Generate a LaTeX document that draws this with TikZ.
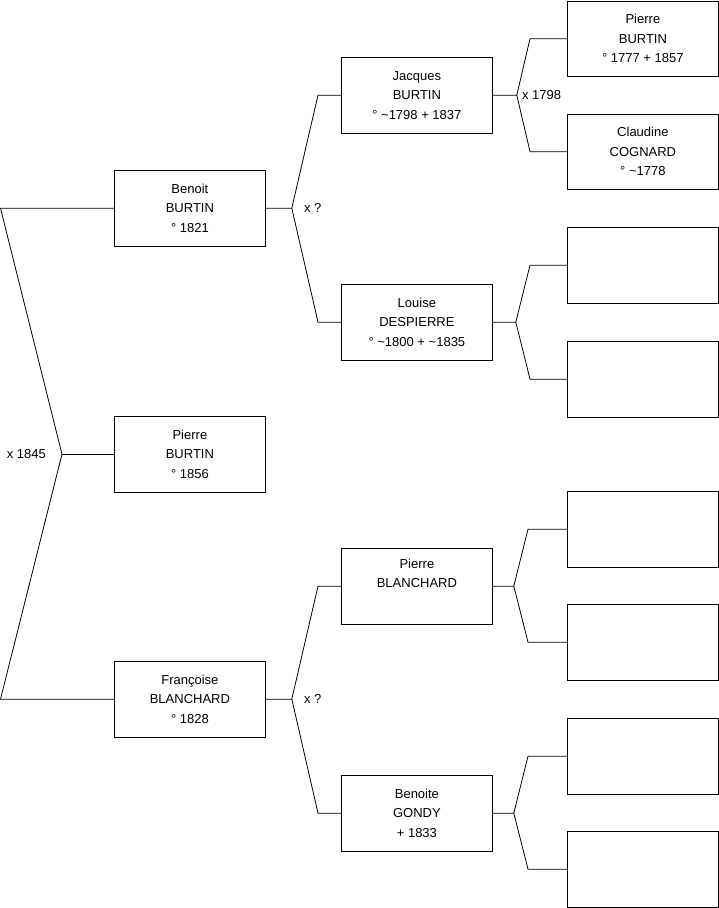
\documentclass[tikz,border=0pt]{standalone}
\usepackage{fontspec}
\setmainfont{Liberation Sans}
\begin{document}
\begin{tikzpicture}[
    x=1pt, y=-1pt,
    personne/.style={rectangle, draw=black, line width=0.8pt, anchor=north west, minimum width=151pt, minimum height=75.5pt, inner sep=0pt, align=center, font=\fontsize{13}{19.5}\selectfont},
    lien/.style={line width=0.8pt},
    union/.style={font=\fontsize{13}{15}\selectfont, inner sep=2pt},
]
\useasboundingbox (0,0) rectangle (719,908);

\node (benoit) [personne] at (114,170) {Benoit\\ BURTIN\\ ° 1821};
\node (pierre) [personne] at (114,416) {Pierre\\ BURTIN\\ ° 1856};
\node (francoise) [personne] at (114,661) {Françoise\\ BLANCHARD\\ ° 1828};

\node (jacques) [personne] at (341,57) {Jacques\\ BURTIN\\ ° \textasciitilde1798 + 1837};
\node (louise) [personne] at (341,284) {Louise\\ DESPIERRE\\ ° \textasciitilde1800 + \textasciitilde1835};
\node (blanchard) [personne] at (341,548) {Pierre\\ BLANCHARD\\ \strut};
\node (benoite) [personne] at (341,775) {Benoite\\ GONDY\\ + 1833};

\node (pierreaieul) [personne] at (567,0.5) {Pierre\\ BURTIN\\ ° 1777 + 1857};
\node (claudine) [personne] at (567,113.5) {Claudine\\ COGNARD\\ ° \textasciitilde1778};
\node (vide1) [personne] at (567,227) {};
\node (vide2) [personne] at (567,341) {};
\node (vide3) [personne] at (567,491) {};
\node (vide4) [personne] at (567,604) {};
\node (vide5) [personne] at (567,718) {};
\node (vide6) [personne] at (567,831) {};

\coordinate (m0) at ([xshift=-52pt]pierre.west);
\coordinate (m1) at ([xshift=26pt]benoit.east);
\coordinate (m2) at ([xshift=26pt]francoise.east);
\coordinate (m3) at ([xshift=24pt]jacques.east);
\coordinate (m4) at ([xshift=23pt]louise.east);
\coordinate (m5) at ([xshift=21pt]blanchard.east);
\coordinate (m6) at ([xshift=21pt]benoite.east);

\draw [lien] (benoit.west) -- ([xshift=-113.5pt]benoit.west) -- (m0) -- ([xshift=-113.5pt]francoise.west) -- (francoise.west);
\draw [lien] (m0) -- (pierre.west);
\node [union, left=14pt] at (m0) {x 1845};

\draw [lien] (benoit.east) -- (m1) -- ([xshift=-23pt]jacques.west) -- (jacques.west);
\draw [lien] (m1) -- ([xshift=-23pt]louise.west) -- (louise.west);
\node [union, right=10pt] at (m1) {x ?};

\draw [lien] (francoise.east) -- (m2) -- ([xshift=-23pt]blanchard.west) -- (blanchard.west);
\draw [lien] (m2) -- ([xshift=-23pt]benoite.west) -- (benoite.west);
\node [union, right=10pt] at (m2) {x ?};

\draw [lien] (jacques.east) -- (m3) -- ([xshift=-37pt]pierreaieul.west) -- (pierreaieul.west);
\draw [lien] (m3) -- ([xshift=-37pt]claudine.west) -- (claudine.west);
\node [union, right=3pt] at (m3) {x 1798};

\draw [lien] (louise.east) -- (m4) -- ([xshift=-37pt]vide1.west) -- (vide1.west);
\draw [lien] (m4) -- ([xshift=-37pt]vide2.west) -- (vide2.west);

\draw [lien] (blanchard.east) -- (m5) -- ([xshift=-39pt]vide3.west) -- (vide3.west);
\draw [lien] (m5) -- ([xshift=-39pt]vide4.west) -- (vide4.west);

\draw [lien] (benoite.east) -- (m6) -- ([xshift=-39pt]vide5.west) -- (vide5.west);
\draw [lien] (m6) -- ([xshift=-39pt]vide6.west) -- (vide6.west);

\end{tikzpicture}
\end{document}
